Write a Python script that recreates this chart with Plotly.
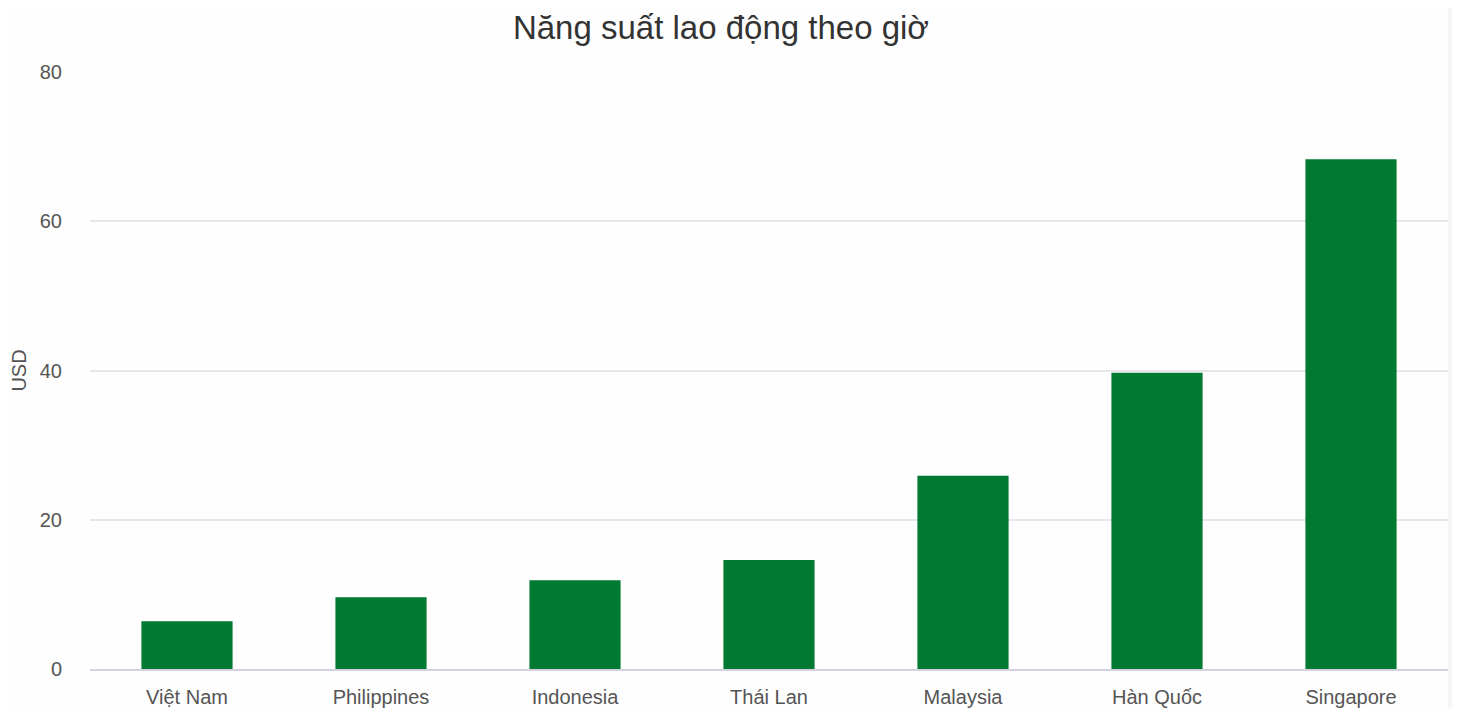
import plotly.graph_objects as go

# Năng suất lao động theo giờ (USD)
countries = ["Việt Nam", "Philippines", "Indonesia", "Thái Lan", "Malaysia", "Hàn Quốc", "Singapore"]
usd_per_hour = [6.4, 9.6, 11.9, 14.6, 25.9, 39.7, 68.3]

bar_color = "#007a33"

fig = go.Figure(
    go.Bar(
        x=countries,
        y=usd_per_hour,
        marker=dict(color=bar_color, line=dict(width=0)),
        hovertemplate="%{x}: %{y} USD<extra></extra>",
    )
)

# the page has an 8px body margin, so the figure is 1452x700
fig.update_layout(
    width=1452,
    height=700,
    title=dict(
        text="Năng suất lao động theo giờ",
        x=0.491,
        xanchor="center",
        y=0.972,
        yanchor="middle",
        font=dict(size=33, color="#333333"),
    ),
    font=dict(family="Liberation Sans, Arial, sans-serif", size=20, color="#666666"),
    paper_bgcolor="#fefefe",
    plot_bgcolor="#fefefe",
    margin=dict(l=82, r=12, t=64, b=39),
    bargap=0.53,
    showlegend=False,
)

fig.update_xaxes(
    automargin=False,
    showgrid=False,
    showline=True,
    linecolor="#d3d2e3",
    linewidth=2,
    ticks="",
    ticklabelstandoff=9,
    tickfont=dict(size=20, color="#555555"),
)

fig.update_yaxes(
    automargin=False,
    range=[0, 80],
    dtick=20,
    showgrid=True,
    gridcolor="#e7e6ec",
    gridwidth=2,
    zeroline=False,
    showline=False,
    ticks="",
    ticklabelstandoff=27,
    tickfont=dict(size=20, color="#555555"),
    title=dict(text="USD", font=dict(size=20, color="#555555"), standoff=16),
)

# thin grey strip on the right edge
fig.add_shape(
    type="rect", xref="paper", yref="paper",
    x0=1.0, x1=1.0 + 12 / 1358, y0=-1, y1=2,
    fillcolor="#f6f6f8", line=dict(width=0), layer="below",
)

fig.write_html("out.html")
